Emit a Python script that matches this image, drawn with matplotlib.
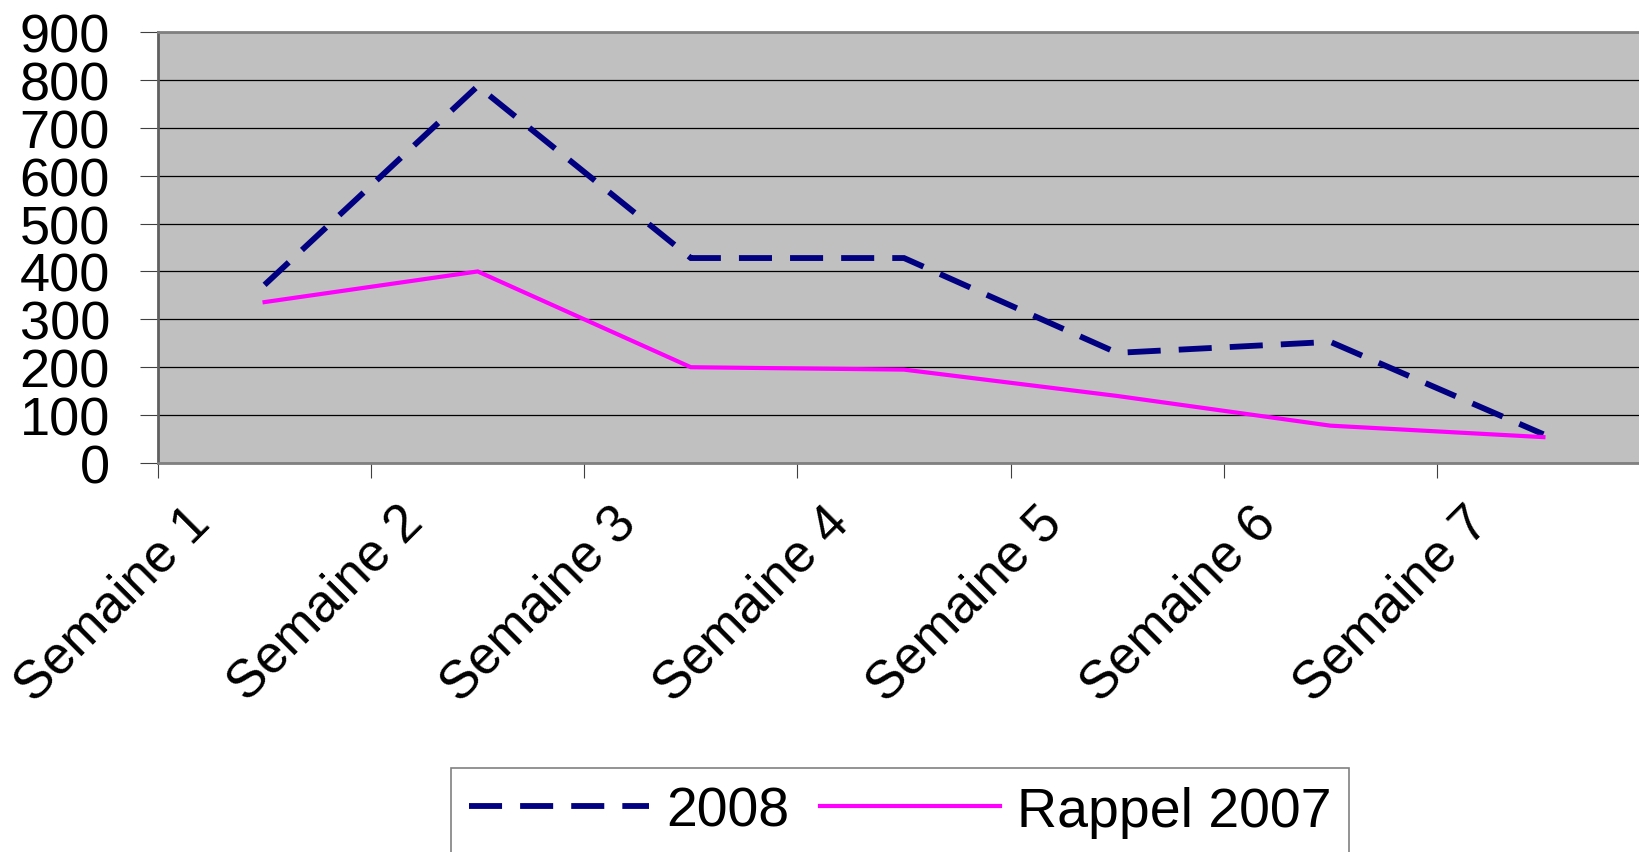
import numpy as np
import matplotlib
matplotlib.use('Agg')
import matplotlib.pyplot as plt
from matplotlib.transforms import ScaledTranslation

# ---- data ----
categories = ["Semaine 1", "Semaine 2", "Semaine 3", "Semaine 4",
              "Semaine 5", "Semaine 6", "Semaine 7"]
values_2008 = [372, 787, 428, 428, 230, 253, 60]
values_2007 = [336, 400, 200, 195, 140, 78, 54]
series_labels = ["2008", "Rappel 2007"]
y_ticks = [0, 100, 200, 300, 400, 500, 600, 700, 800, 900]

plt.rcParams['font.family'] = ['Liberation Sans', 'DejaVu Sans']
plt.rcParams['lines.scale_dashes'] = False

W, H = 1639, 853
fig = plt.figure(figsize=(W / 100, H / 100), dpi=100)
ax = fig.add_axes([158 / W, (H - 464) / H, (1650 - 158) / W, 431 / H])
ax.set_facecolor('#C0C0C0')

x = np.arange(len(categories)) + 0.5
l1, = ax.plot(x, values_2008, color='#000080', lw=4.2, ls=(0, (23.8, 13.0)),
              dash_capstyle='butt', dash_joinstyle='miter', label=series_labels[0])
l2, = ax.plot(x, values_2007, color='#FF00FF', lw=3.0,
              solid_joinstyle='miter', label=series_labels[1])

ax.set_xlim(0, len(categories))
ax.set_ylim(0, 900)
ax.set_yticks(y_ticks)
ax.yaxis.grid(True, color='black', lw=0.9)
ax.set_axisbelow(True)

ax.set_xticks(np.arange(len(categories) + 1))
ax.set_xticklabels([])
ax.set_xticks(x, minor=True)
ax.set_xticklabels(categories, minor=True, rotation=45, ha='right', va='top',
                   fontsize=38)
ax.tick_params(axis='x', which='major', length=10.8, width=0.8, color='#404040')
ax.tick_params(axis='x', which='minor', length=0, pad=24)
ax.tick_params(axis='y', length=13, width=0.8, pad=21.6, labelsize=39,
               color='#404040')
offset = ScaledTranslation(-45 / 100, 0, fig.dpi_scale_trans)
for lab in ax.get_xticklabels(minor=True):
    lab.set_transform(lab.get_transform() + offset)

for s in ['top', 'bottom']:
    ax.spines[s].set_color('#808080')
    ax.spines[s].set_linewidth(2)
ax.spines['left'].set_color('#606060')
ax.spines['left'].set_linewidth(2)
ax.spines['right'].set_visible(False)

leg = fig.legend(handles=[l1, l2], loc='upper center',
                 bbox_to_anchor=(900 / W, 1 - 769 / H), ncol=2, fontsize=40,
                 frameon=True, fancybox=False, edgecolor='#808080',
                 handlelength=3.25, handletextpad=0.3, columnspacing=0.55,
                 borderpad=0.32, borderaxespad=0)
leg.get_frame().set_linewidth(1.2)
leg.get_frame().set_facecolor('white')
leg.get_frame().set_alpha(1)

fig.savefig('out.png', dpi=100)
